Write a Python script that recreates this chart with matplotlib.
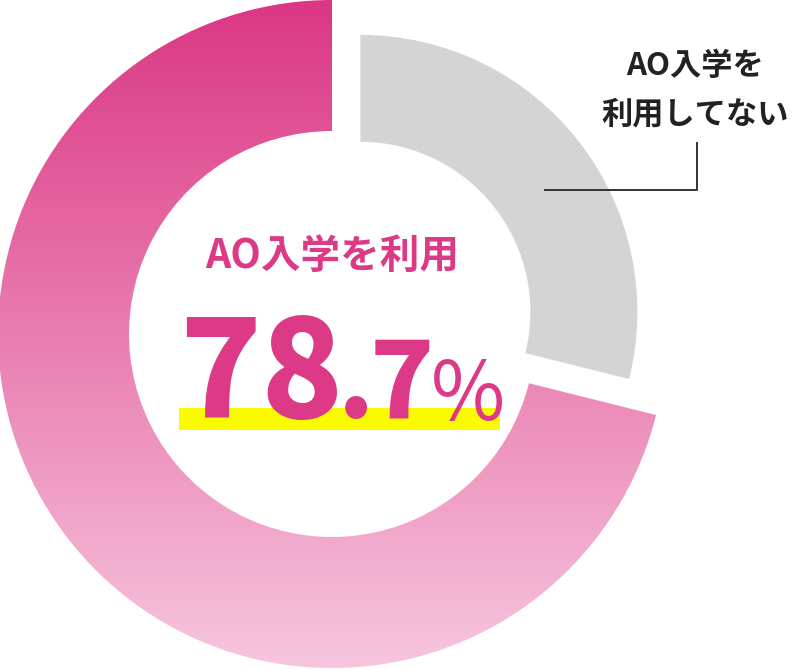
import matplotlib.pyplot as plt
from matplotlib.colors import LinearSegmentedColormap
from matplotlib.patches import Rectangle
import numpy as np

plt.rcParams['font.family'] = ['Noto Sans CJK JP', 'DejaVu Sans']

# データ
labels = ['AO入学を利用', 'AO入学を\n利用してない']
rate = [78.7, 21.3]          # 表示する割合
arc_share = [71.1, 28.9]     # 元の図で描かれている円弧の割合
main_label = labels[0]
other_label = labels[1]

W, H = 792, 670
fig = plt.figure(figsize=(W / 100, H / 100), dpi=100)
ax = fig.add_axes([0, 0, 1, 1])

# ドーナツ（explode は絶対値で効く）
wedges, _ = ax.pie(arc_share, startangle=90, counterclock=True,
                   radius=334, center=(332, 336), explode=[0, 36],
                   wedgeprops=dict(width=131, linewidth=0))
pink, gray = wedges
gray.set_radius(277)
gray.set_width(107)
gray.set_facecolor('#d4d4d4')
pink.set_facecolor('none')

# ピンクのグラデーション（上が濃い）
cmap = LinearSegmentedColormap.from_list('pk', ['#f7c6de', '#e97db0', '#db3784'])
grad = np.linspace(0, 1, 256).reshape(-1, 1)
im = ax.imshow(grad, cmap=cmap, extent=(0, W, 0, H), origin='lower',
               aspect='auto', zorder=1)
im.set_clip_path(pink)

ax.set_xlim(0, W)
ax.set_ylim(0, H)
ax.set_aspect('equal')
ax.axis('off')

# 中央のテキスト
ax.text(332, 414, main_label, ha='center', va='center', fontsize=28.5,
        fontweight='bold', color='#dc3a86', zorder=5)

ax.add_patch(Rectangle((179, H - 430), 321, 22, color='#fbfb00', lw=0, zorder=3))
whole, dec = f'{rate[0]:.1f}'.split('.')
num_kw = dict(ha='left', va='baseline', fontweight='black', color='#dc3a86', zorder=5)
ax.text(179, H - 418, whole, fontsize=97, **num_kw)
ax.text(338, H - 418, '.', fontsize=74, **num_kw)
ax.text(370, H - 418, dec, fontsize=76, **num_kw)
ax.text(431, H - 420, '%', ha='left', va='baseline', fontsize=58,
        fontweight='normal', color='#dc3a86', zorder=5)

# 右上のラベル
ax.text(695, H - 90, other_label, ha='center', va='center', fontsize=22.5,
        fontweight='bold', color='#222222', linespacing=1.65, zorder=5)
ax.plot([545, 697, 697], [H - 190, H - 190, H - 143], color='#333333',
        lw=1.4, zorder=5)

fig.savefig('out.png', dpi=100)
